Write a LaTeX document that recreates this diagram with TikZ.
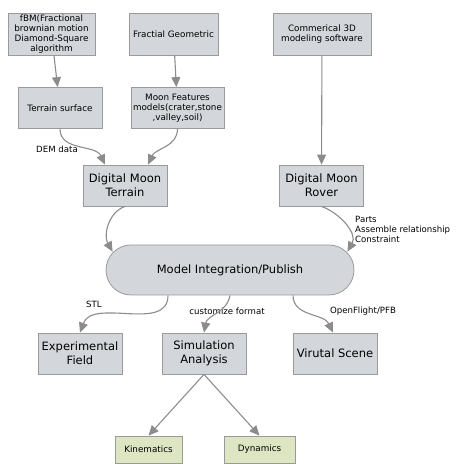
\documentclass[tikz,border=0pt]{standalone}
\usepackage{fontspec}
\setmainfont{DejaVu Sans}
\usetikzlibrary{arrows.meta}
\definecolor{boxgray}{HTML}{D3D7DC}
\definecolor{leafgreen}{HTML}{DDE5C3}
\definecolor{linegray}{HTML}{8C8C8C}
\definecolor{edgegray}{HTML}{9A9A9A}
\begin{document}
\begin{tikzpicture}[x=1pt,y=1pt,
        box/.style={rectangle,draw=edgegray,line width=0.8pt,fill=boxgray,
                    align=center,inner sep=1pt,font=\fontsize{8.8}{10}\selectfont},
        bigbox/.style={box,font=\fontsize{11.5}{14}\selectfont},
        leaf/.style={box,fill=leafgreen,font=\fontsize{8.8}{10}\selectfont},
        link/.style={draw=linegray,line width=1.1pt,
                     -{Triangle[length=10pt,width=9pt]}},
        lbl/.style={inner sep=0pt,align=left,font=\fontsize{8.6}{10}\selectfont}]
    \useasboundingbox (0,0) rectangle (456,464);

    \begin{scope}[every node/.style={box,minimum height=42pt}]
        \node[minimum width=87pt] (fbm) at (51.5,430) {fBM(Fractional\\brownian motion\\Diamond-Square\\algorithm};
        \node[minimum width=89pt] (frac) at (173.5,430) {Fractial Geometric};
        \node[minimum width=98pt] (cad) at (322,430) {Commerical 3D\\modeling software};
        \node[minimum width=84pt,minimum height=41pt] (ts) at (60,356) {Terrain surface};
        \node[minimum width=93pt,minimum height=41pt] (mf) at (177.5,356) {Moon Features\\models(crater,stone\\,valley,soil)};
    \end{scope}

    \begin{scope}[every node/.style={bigbox,minimum width=84pt,minimum height=41pt}]
        \node (dmt) at (125,278.5) {Digital Moon\\Terrain};
        \node (dmr) at (321.5,278.5) {Digital Moon\\Rover};
        \node (ef) at (80,110.5) {Experimental\\Field};
        \node (sa) at (204,110.5) {Simulation\\Analysis};
        \node (vs) at (335,110.5) {Virutal Scene};
    \end{scope}

    \node[bigbox,rounded corners=25pt,minimum width=248pt,minimum height=50pt] (mip) at (230,194) {Model Integration/Publish};

    \node[leaf,minimum width=67pt,minimum height=27pt] (kin) at (148.5,14.5) {Kinematics};
    \node[leaf,minimum width=71pt,minimum height=27pt] (dyn) at (259.5,14.5) {Dynamics};

    % edge labels
    \node[lbl] (dem) at (57,315) {DEM data};
    \node[lbl,anchor=north west] (prt) at (355,248) {Parts\\Assemble relationship\\Constraint};
    \node[lbl] (stl) at (94,160) {STL};
    \node[lbl] (cus) at (227,153) {customize format};
    \node[lbl] (ofl) at (363,153) {OpenFlight/PFB};

    \path (fbm) edge[link] (ts);
    \path (frac) edge[link] (mf);
    \path (cad) edge[link] (dmr);
    \path (ts.south) edge[link,out=-90,in=115] ([xshift=-20pt]dmt.north);
    \path (mf.south) edge[link,out=-90,in=65] ([xshift=23pt]dmt.north);
    \path (dmt.south) edge[link,out=200,in=120] ([xshift=7pt,yshift=-7pt]mip.north west);
    \path (dmr.south) edge[link,out=-20,in=60] ([xshift=-7pt,yshift=-7pt]mip.north east);
    \path ([xshift=-62pt]mip.south) edge[link,out=-90,in=70] (ef.north);
    \path (mip.south) edge[link,out=-100,in=80] (sa.north);
    \path ([xshift=63pt]mip.south) edge[link,out=-90,in=115] ([xshift=-2pt]vs.north);
    \path (sa.south) edge[link] (kin.north);
    \path (sa.south) edge[link] (dyn.north);
\end{tikzpicture}
\end{document}
